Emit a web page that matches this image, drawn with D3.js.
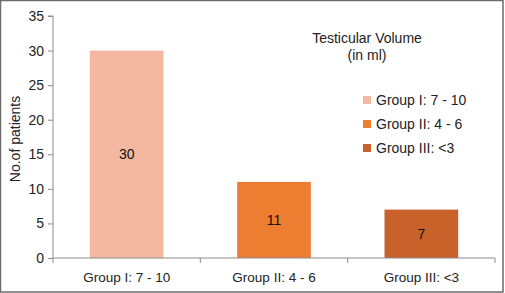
<!DOCTYPE html>
<html>
<head>
<meta charset="utf-8">
<script src="https://cdn.jsdelivr.net/npm/d3@7"></script>
<style>
  body { margin: 0; background: #fff; }
  svg { display: block; font-family: "Liberation Sans", Arial, sans-serif; }
</style>
</head>
<body>
<div id="chart"></div>
<script>
// Data
const categories = ["Group I: 7 - 10", "Group II: 4 - 6", "Group III: <3"];
const patients = [30, 11, 7];
const barColors = ["#f4b7a0", "#ed7d31", "#c9622a"];
const yTicks = [0, 5, 10, 15, 20, 25, 30, 35];
const legendTitle = ["Testicular Volume", "(in ml)"];

const width = 505, height = 293;
const margin = { left: 53, right: 10, top: 16, bottom: 35 };
const font = "Liberation Sans, Arial, sans-serif";

const svg = d3.select("#chart").append("svg")
    .attr("width", width)
    .attr("height", height);

// outer frame
svg.append("rect")
    .attr("x", 0.5).attr("y", 0.5)
    .attr("width", 502.5).attr("height", 291.5)
    .attr("fill", "#fff")
    .attr("stroke", "#6b6b6b")
    .attr("stroke-width", 1.5);

const x = d3.scaleBand()
    .domain(categories)
    .range([margin.left, 495])
    .paddingInner(0.5)
    .paddingOuter(0.25);

const y = d3.scaleLinear()
    .domain([0, 35])
    .range([258, margin.top]);

// bars
svg.append("g")
    .selectAll("rect")
    .data(patients)
    .join("rect")
    .attr("x", (d, i) => x(categories[i]))
    .attr("y", d => y(d))
    .attr("width", x.bandwidth())
    .attr("height", d => y(0) - y(d))
    .attr("fill", (d, i) => barColors[i]);

// value labels
svg.append("g")
    .selectAll("text")
    .data(patients)
    .join("text")
    .attr("x", (d, i) => x(categories[i]) + x.bandwidth() / 2)
    .attr("y", d => (y(d) + y(0)) / 2 + 5)
    .attr("text-anchor", "middle")
    .attr("font-size", 14)
    .attr("fill", "#111")
    .text(d => d);

// y axis
const yAxis = svg.append("g")
    .attr("transform", `translate(${margin.left},0)`)
    .call(d3.axisLeft(y).tickValues(yTicks).tickSize(5).tickPadding(4));
yAxis.select(".domain").attr("stroke", "#8c8c8c").attr("d", `M-5,${y(35)}H0V${y(0)}`);
yAxis.selectAll(".tick line").attr("stroke", "#8c8c8c");
yAxis.selectAll(".tick text")
    .attr("font-size", 14)
    .attr("font-family", font)
    .attr("fill", "#222");

// x axis
const boundaries = [0, 1, 2, 3].map(i => margin.left + i * (495 - margin.left) / 3);
const xAxis = svg.append("g")
    .attr("transform", `translate(0,${y(0)})`)
    .call(d3.axisBottom(x).tickSize(0).tickPadding(14));
xAxis.select(".domain").attr("stroke", "#8c8c8c").attr("d", `M${margin.left},0H495`);
xAxis.selectAll(".tick text")
    .attr("font-size", 13.5)
    .attr("font-family", font)
    .attr("fill", "#222");
xAxis.append("g")
    .selectAll("line")
    .data(boundaries)
    .join("line")
    .attr("x1", d => d).attr("x2", d => d)
    .attr("y1", 0).attr("y2", 5)
    .attr("stroke", "#8c8c8c");

// y axis title
svg.append("text")
    .attr("transform", `translate(20,${(y(0) + y(35)) / 2 + 2}) rotate(-90)`)
    .attr("text-anchor", "middle")
    .attr("font-size", 14)
    .attr("fill", "#222")
    .text("No.of patients");

// legend title
svg.append("g")
    .selectAll("text")
    .data(legendTitle)
    .join("text")
    .attr("x", 367)
    .attr("y", (d, i) => 43 + i * 17)
    .attr("text-anchor", "middle")
    .attr("font-size", 14)
    .attr("fill", "#222")
    .text(d => d);

// legend items
const legend = svg.append("g")
    .selectAll("g")
    .data(categories)
    .join("g")
    .attr("transform", (d, i) => `translate(363,${100 + i * 24})`);
legend.append("rect")
    .attr("x", 0).attr("y", -4)
    .attr("width", 8).attr("height", 8)
    .attr("fill", (d, i) => barColors[i]);
legend.append("text")
    .attr("x", 13)
    .attr("y", 5)
    .attr("font-size", 14)
    .attr("fill", "#222")
    .text(d => d);
</script>
</body>
</html>
